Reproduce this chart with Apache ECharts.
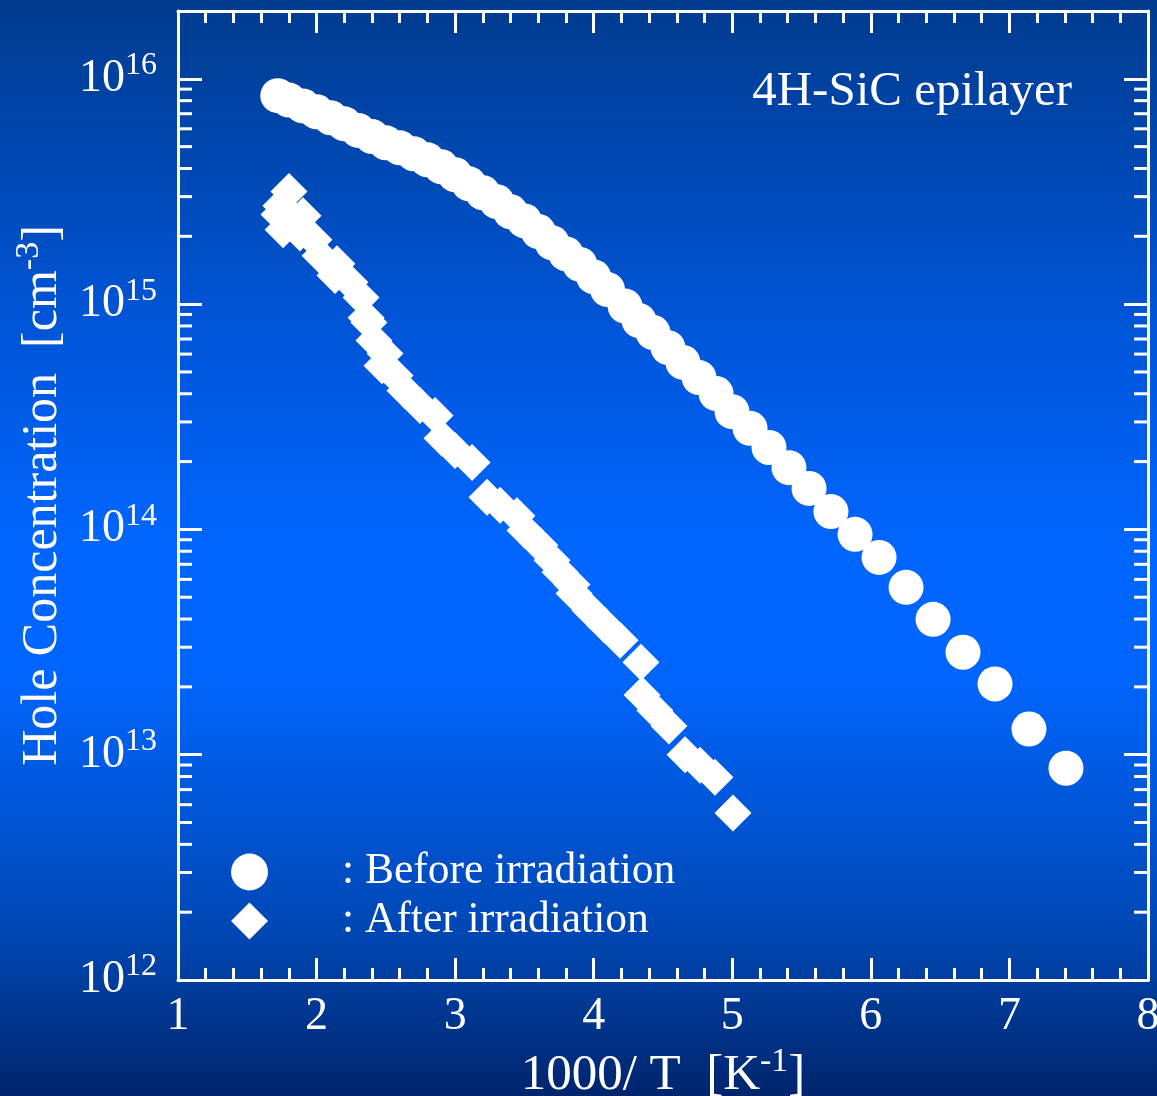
<!DOCTYPE html>
<html>
<head>
<meta charset="utf-8">
<script src="https://cdn.jsdelivr.net/npm/echarts@6/dist/echarts.min.js"></script>
<style>
html,body{margin:0;padding:0;}
#chart{width:1157px;height:1096px;}
</style>
</head>
<body>
<div id="chart"></div>
<script>
// ---- data (1000/T in K^-1, hole concentration in cm^-3) ----
const beforeX = [1.72, 1.80, 1.90, 2.00, 2.10, 2.20, 2.30, 2.40, 2.50, 2.60, 2.70, 2.80, 2.90, 3.00, 3.10, 3.20, 3.30, 3.40, 3.50, 3.60, 3.70, 3.80, 3.90, 4.00, 4.10, 4.226,
  4.327, 4.428, 4.536, 4.644, 4.760, 4.883, 4.998, 5.128, 5.265, 5.409, 5.554, 5.712, 5.886, 6.059, 6.254, 6.449, 6.665, 6.896, 7.141, 7.408];
const beforeY = [8.42e15, 8.05e15, 7.58e15, 7.14e15, 6.72e15, 6.31e15, 5.90e15, 5.54e15, 5.20e15, 4.94e15, 4.65e15, 4.37e15, 4.07e15, 3.75e15, 3.42e15, 3.12e15, 2.85e15, 2.57e15, 2.34e15, 2.10e15, 1.87e15, 1.67e15, 1.50e15, 1.32e15, 1.16e15, 9.8e14,
  8.45e14, 7.48e14, 6.41e14, 5.51e14, 4.72e14, 4.01e14, 3.33e14, 2.81e14, 2.31e14, 1.88e14, 1.52e14, 1.20e14, 9.51e13, 7.51e13, 5.53e13, 3.99e13, 2.85e13, 2.06e13, 1.30e13, 8.71e12];

const afterX = [1.743, 1.801, 1.729, 1.758, 1.902, 1.880, 1.981, 2.025, 2.147, 2.133, 2.241, 2.321, 2.357, 2.378, 2.414, 2.494, 2.472, 2.566, 2.638, 2.746, 2.855, 2.905, 2.999, 3.122,
  3.230, 3.324, 3.446, 3.504, 3.612, 3.699, 3.757, 3.843, 3.858, 3.973, 4.081, 4.190, 4.341, 4.349, 4.442, 4.543, 4.659, 4.767, 4.875, 5.005];
const afterY = [2.73e15, 3.16e15, 2.50e15, 2.14e15, 2.47e15, 2.07e15, 1.93e15, 1.64e15, 1.51e15, 1.34e15, 1.25e15, 1.07e15, 8.71e14, 8.28e14, 6.89e14, 6.03e14, 5.33e14, 4.82e14, 4.13e14, 3.55e14, 3.20e14, 2.54e14, 2.24e14, 1.98e14,
  1.39e14, 1.28e14, 1.15e14, 9.9e13, 8.5e13, 7.29e13, 6.45e13, 5.70e13, 5.20e13, 4.37e13, 3.75e13, 3.22e13, 2.57e13, 1.84e13, 1.57e13, 1.34e13, 1.00e13, 8.98e12, 7.94e12, 5.51e12];

const seriesNames = ['Before irradiation', 'After irradiation'];
const xTicks = [1, 2, 3, 4, 5, 6, 7, 8];
const yDecades = [12, 13, 14, 15, 16];           // tick labels 10^12 ... 10^16
const yMaxValue = 2e16;                           // top of frame
const minorMultipliers = [2, 3, 4, 5, 6, 7, 8, 9];

// ---- build ----
const L = Math.log10;
const beforeData = beforeX.map((x, i) => [x, L(beforeY[i])]);
const afterData = afterX.map((x, i) => [x, L(afterY[i])]);
const minorData = [];
yDecades.forEach(d => minorMultipliers.forEach(m => {
  const v = d + L(m);
  if (v < L(yMaxValue)) minorData.push([xTicks[0], v]);
}));

const FONT = 'Liberation Serif';
const W = '#ffffff';

const chart = echarts.init(document.getElementById('chart'));
const yLabelRich = {
  b: { fontFamily: FONT, fontSize: 46, color: W },
  s: { fontFamily: FONT, fontSize: 32, color: W, padding: [0, 0, 26, 0] }
};
const option = {
  backgroundColor: {
    type: 'linear', x: 0, y: 0, x2: 0, y2: 1,
    colorStops: [
      { offset: 0, color: '#003b8e' },
      { offset: 0.3, color: '#0055d8' },
      { offset: 0.5, color: '#0066ff' },
      { offset: 0.62, color: '#0065fc' },
      { offset: 0.85, color: '#0047b4' },
      { offset: 1, color: '#00256c' }
    ]
  },
  animation: false,
  title: {
    text: '4H-SiC epilayer',
    right: 80, top: 63,
    textStyle: { fontFamily: FONT, fontSize: 49, fontWeight: 'normal', color: W }
  },
  legend: {
    orient: 'vertical',
    left: 226, top: 845,
    itemWidth: 37, itemHeight: 37, itemGap: 5,
    formatter: n => ': ' + n,
    textStyle: { fontFamily: FONT, fontSize: 43.5, color: W, padding: [0, 0, 0, 69] },
    data: seriesNames
  },
  grid: { left: 178, right: 9, top: 11, bottom: 116, containLabel: false, outerBoundsMode: 'none' },
  xAxis: [
    {
      type: 'value', min: xTicks[0], max: xTicks[xTicks.length - 1], interval: 1,
      name: '{a|1000/ T  [K}{s|-1}{a|]}',
      nameLocation: 'middle', nameGap: 55,
      nameTextStyle: { rich: {
        a: { fontFamily: FONT, fontSize: 51, color: W },
        s: { fontFamily: FONT, fontSize: 34, color: W, padding: [0, 0, 28, 0] }
      } },
      axisLine: { show: true, lineStyle: { color: W, width: 3 } },
      axisTick: { inside: true, length: 22, lineStyle: { color: W, width: 3 } },
      minorTick: { show: true, splitNumber: 5, length: 12, lineStyle: { color: W, width: 3 } },
      splitLine: { show: false },
      axisLabel: { fontFamily: FONT, fontSize: 46, color: W, margin: 14 }
    },
    {
      type: 'value', position: 'top', min: xTicks[0], max: xTicks[xTicks.length - 1], interval: 1,
      axisLine: { show: true, lineStyle: { color: W, width: 3 } },
      axisTick: { inside: true, length: 22, lineStyle: { color: W, width: 3 } },
      minorTick: { show: true, splitNumber: 5, length: 12, lineStyle: { color: W, width: 3 } },
      splitLine: { show: false },
      axisLabel: { show: false }
    }
  ],
  yAxis: [
    {
      type: 'value', min: yDecades[0], max: L(yMaxValue), interval: 1,
      name: '{a|Hole Concentration  [cm}{s|-3}{a|]}',
      nameLocation: 'middle', nameGap: 104, nameRotate: 90,
      nameTextStyle: { rich: {
        a: { fontFamily: FONT, fontSize: 50, color: W },
        s: { fontFamily: FONT, fontSize: 34, color: W, padding: [0, 0, 28, 0] }
      } },
      axisLine: { show: true, lineStyle: { color: W, width: 3 } },
      axisTick: { inside: true, length: 24, lineStyle: { color: W, width: 3 } },
      splitLine: { show: false },
      axisLabel: {
        margin: 21,
        showMaxLabel: false,
        formatter: v => yDecades.indexOf(Math.round(v)) >= 0 && Math.abs(v - Math.round(v)) < 1e-6 ? '{b|10}{s|' + Math.round(v) + '}' : '',
        rich: yLabelRich
      }
    },
    {
      type: 'value', position: 'right', min: yDecades[0], max: L(yMaxValue), interval: 1,
      axisLine: { show: true, lineStyle: { color: W, width: 3 } },
      axisTick: { inside: true, length: 24, lineStyle: { color: W, width: 3 } },
      splitLine: { show: false },
      axisLabel: { show: false }
    }
  ],
  series: [
    {
      name: seriesNames[0], type: 'scatter', symbol: 'circle', symbolSize: 35,
      itemStyle: { color: W, opacity: 1 },
      data: beforeData, z: 3
    },
    {
      name: seriesNames[1], type: 'scatter', symbol: 'diamond', symbolSize: 37,
      itemStyle: { color: W, opacity: 1 },
      data: afterData, z: 3
    },
    {
      type: 'custom', silent: true, clip: false, z: 5,
      data: minorData,
      renderItem: function (params, api) {
        const y = api.coord([api.value(0), api.value(1)])[1];
        const cs = params.coordSys;
        return {
          type: 'group',
          children: [
            { type: 'line', shape: { x1: cs.x, y1: y, x2: cs.x + 14, y2: y }, style: { stroke: W, lineWidth: 3 } },
            { type: 'line', shape: { x1: cs.x + cs.width, y1: y, x2: cs.x + cs.width - 14, y2: y }, style: { stroke: W, lineWidth: 3 } }
          ]
        };
      }
    }
  ]
};
chart.setOption(option);
</script>
</body>
</html>
